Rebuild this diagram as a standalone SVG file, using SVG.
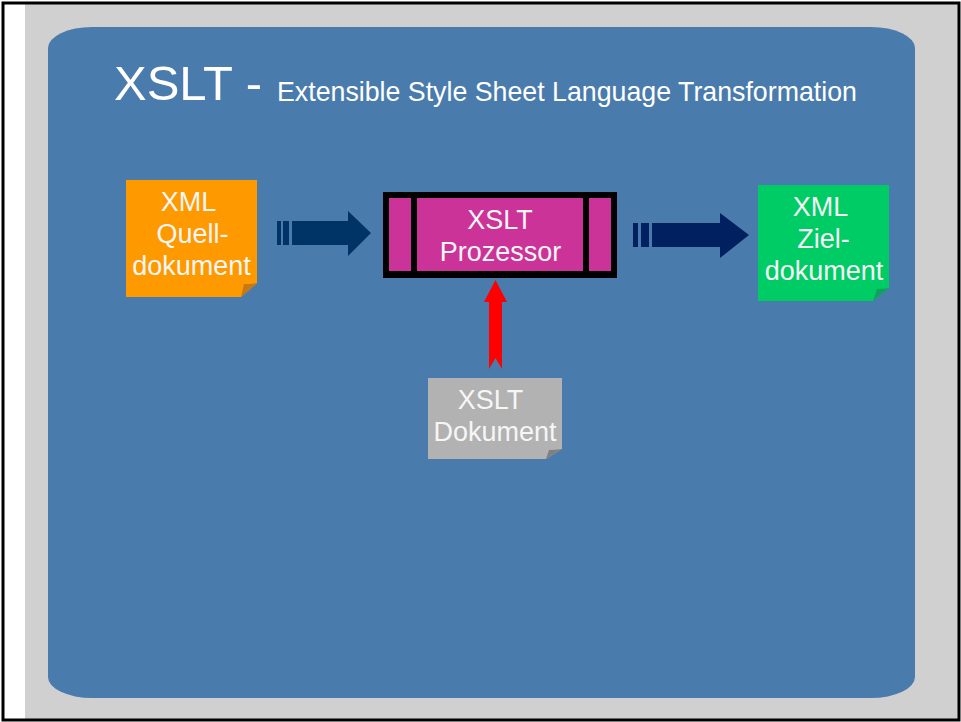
<svg xmlns="http://www.w3.org/2000/svg" width="961" height="722" viewBox="0 0 961 722">
<style>
text{font-family:"Liberation Sans",Arial,sans-serif;fill:#fff}
.n{font-size:27px;text-anchor:middle;fill:#f6f6f6}
</style>
<rect width="961" height="722" fill="#fff"/>
<rect x="25" y="4" width="933" height="716" fill="#d0d0d0"/>
<rect x="3" y="3" width="956" height="717" fill="none" stroke="#000" stroke-width="3"/>
<path d="M48 48A44 21 0 0 1 92 27H871A44 21 0 0 1 915 48V677A44 21 0 0 1 871 698H92A44 21 0 0 1 48 677Z" fill="#4a7bad"/>
<text x="114" y="100" font-size="49">XSLT -</text>
<text x="277" y="101" font-size="26.75">Extensible Style Sheet Language Transformation</text>
<g id="connectors">
<g fill="#003366"><rect x="277" y="221" width="4" height="24"/><rect x="283" y="221" width="6" height="24"/><path d="M292 221H348V211L371 233L348 256V245H292Z"/></g>
<g fill="#002060"><rect x="633" y="223" width="5" height="24"/><rect x="641" y="223" width="8" height="24"/><path d="M652 223H720V213L749 235L720 258V247H652Z"/></g>
<path d="M489 369V302H484L495.500 280L507 302H502V369L495.500 358Z" fill="#ff0000"/>
</g>
<g id="source">
<path d="M126 180H257V283L241 297H126Z" fill="#ff9900"/>
<path d="M241 297L244 284Q250 284 257 283Z" fill="#c47a12"/>
<text class="n" x="188.500" y="211">XML</text>
<text class="n" x="192.500" y="243">Quell-</text>
<text class="n" x="191.500" y="275">dokument</text>
</g>
<g id="processor">
<rect x="383" y="192" width="234" height="86" fill="#000"/>
<rect x="389" y="198" width="22" height="73" fill="#cc3399"/>
<rect x="417" y="198" width="166" height="73" fill="#cc3399"/>
<rect x="589" y="198" width="22" height="73" fill="#cc3399"/>
<text class="n" x="500" y="229">XSLT</text>
<text class="n" x="500.500" y="261">Prozessor</text>
</g>
<g id="target">
<path d="M758 185H889V288L873 301H758Z" fill="#00cc66"/>
<path d="M873 301L877 289Q883 289 889 288Z" fill="#12a05c"/>
<text class="n" x="820.500" y="216">XML</text>
<text class="n" x="823.500" y="248">Ziel-</text>
<text class="n" x="824" y="280">dokument</text>
</g>
<g id="xslt-document">
<path d="M428 378H562V449L546 459H428Z" fill="#b2b2b2"/>
<path d="M546 459L549 450Q555 450 562 449Z" fill="#808080"/>
<text class="n" x="490.500" y="409">XSLT</text>
<text class="n" x="495" y="441">Dokument</text>
</g>
</svg>
